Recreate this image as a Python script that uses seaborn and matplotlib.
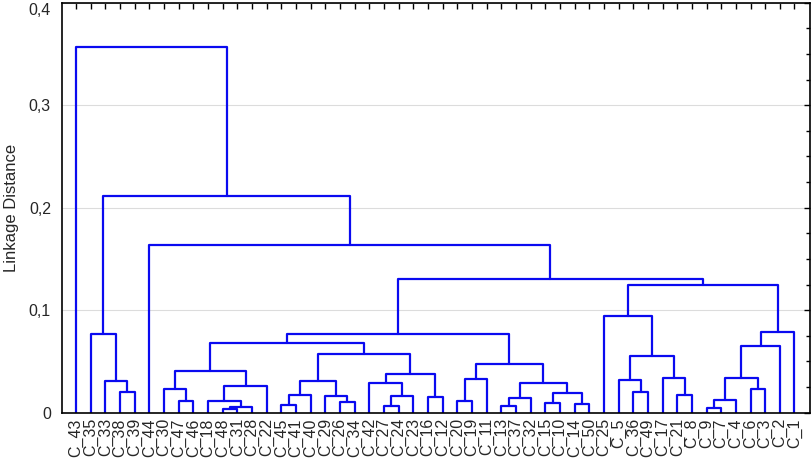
import numpy as np
import pandas as pd
import seaborn as sns
import matplotlib
matplotlib.use("Agg")
import matplotlib.pyplot as plt
from matplotlib.ticker import MultipleLocator, FuncFormatter

# leaves in dendrogram order (left -> right)
leaf_labels = ["C_43", "C_35", "C_33", "C_38", "C_39", "C_44", "C_30", "C_47", "C_46", "C_18",
               "C_48", "C_31", "C_28", "C_22", "C_45", "C_41", "C_40", "C_29", "C_26", "C_34",
               "C_42", "C_27", "C_24", "C_23", "C_16", "C_12", "C_20", "C_19", "C_11", "C_13",
               "C_37", "C_32", "C_15", "C_10", "C_14", "C_50", "C_25", "C_5", "C_36", "C_49",
               "C_17", "C_21", "C_8", "C_9", "C_7", "C_4", "C_6", "C_3", "C_2", "C_1"]

# merges: node ids < 50 are leaf positions, node 50+k is the k-th merge
merge_left = [10, 50, 9, 52, 7, 6, 55, 14, 57, 18,
              17, 58, 21, 62, 20, 24, 64, 61, 56, 26,
              69, 29, 71, 32, 34, 73, 72, 70, 68, 38,
              37, 41, 40, 80, 36, 43, 85, 46, 86, 88,
              89, 84, 78, 5, 3, 2, 1, 96, 0]
merge_right = [11, 12, 51, 13, 8, 54, 53, 15, 16, 19,
               59, 60, 22, 23, 63, 25, 65, 66, 67, 27,
               28, 30, 31, 33, 35, 74, 75, 76, 77, 39,
               79, 42, 81, 82, 83, 44, 45, 47, 87, 48,
               49, 90, 91, 92, 4, 94, 95, 93, 97]
merge_height = [0.0037, 0.0054, 0.0116, 0.0262, 0.0113, 0.0230, 0.0409, 0.0073, 0.0174, 0.0103,
                0.0162, 0.0304, 0.0067, 0.0165, 0.0289, 0.0152, 0.0374, 0.0573, 0.0681, 0.0113,
                0.0328, 0.0061, 0.0142, 0.0092, 0.0086, 0.0188, 0.0289, 0.0475, 0.0769, 0.0198,
                0.0321, 0.0168, 0.0341, 0.0550, 0.0945, 0.0041, 0.0119, 0.0227, 0.0341, 0.0654,
                0.0786, 0.1249, 0.1308, 0.1631, 0.0201, 0.0309, 0.0769, 0.2110, 0.3570]

y_ticks = [0, 0.1, 0.2, 0.3, 0.4]

n = len(leaf_labels)
node_x = list(range(n))
node_y = [0.0] * n
rows = []
for k, (a, b, h) in enumerate(zip(merge_left, merge_right, merge_height)):
    xa, ya = node_x[a], node_y[a]
    xb, yb = node_x[b], node_y[b]
    for px, py in [(xa, ya), (xa, h), (xb, h), (xb, yb)]:
        rows.append({"link": k, "x": px, "y": py})
    node_x.append((xa + xb) / 2)
    node_y.append(h)
df = pd.DataFrame(rows)

sns.set_style("white")
plt.rcParams['font.family'] = ['Liberation Sans', 'DejaVu Sans']

fig = plt.figure(figsize=(8.12, 4.61), dpi=100)
ax = fig.add_axes([0.0764, 0.105, 0.921, 0.889])

ax.yaxis.grid(True, color='#dcdcdc', lw=0.8)
ax.set_axisbelow(True)

sns.lineplot(data=df, x="x", y="y", units="link", estimator=None, sort=False,
             color='#0a0af0', lw=1.6, ax=ax, legend=False)

ax.set_xlim(-0.95, n + 0.05)
ax.set_ylim(0, 0.4)
ax.set_xticks(range(n))
ax.set_xticklabels(leaf_labels, rotation=90, fontsize=11.5)
ax.set_yticks(y_ticks)
ax.yaxis.set_minor_locator(MultipleLocator(0.025))
ax.yaxis.set_major_formatter(FuncFormatter(lambda v, _: "0" if v == 0 else f"{v:.1f}".replace(".", ",")))
ax.tick_params(axis='y', labelsize=11.5, pad=8)
ax.tick_params(axis='x', pad=4)
ax.tick_params(which='both', direction='in', top=True, right=True, color='black', width=1)
ax.tick_params(which='major', length=4)
ax.tick_params(which='minor', length=3)
ax.set_xlabel("")
ax.set_ylabel("Linkage Distance", fontsize=12)
ax.yaxis.set_label_coords(-0.058, 0.5)
for s in ax.spines.values():
    s.set_color('black')
    s.set_linewidth(1.2)

# keep the top tick label inside the picture
fig.canvas.draw()
ax.get_yticklabels()[-1].set_va('top')

fig.savefig("out.png", dpi=100)
